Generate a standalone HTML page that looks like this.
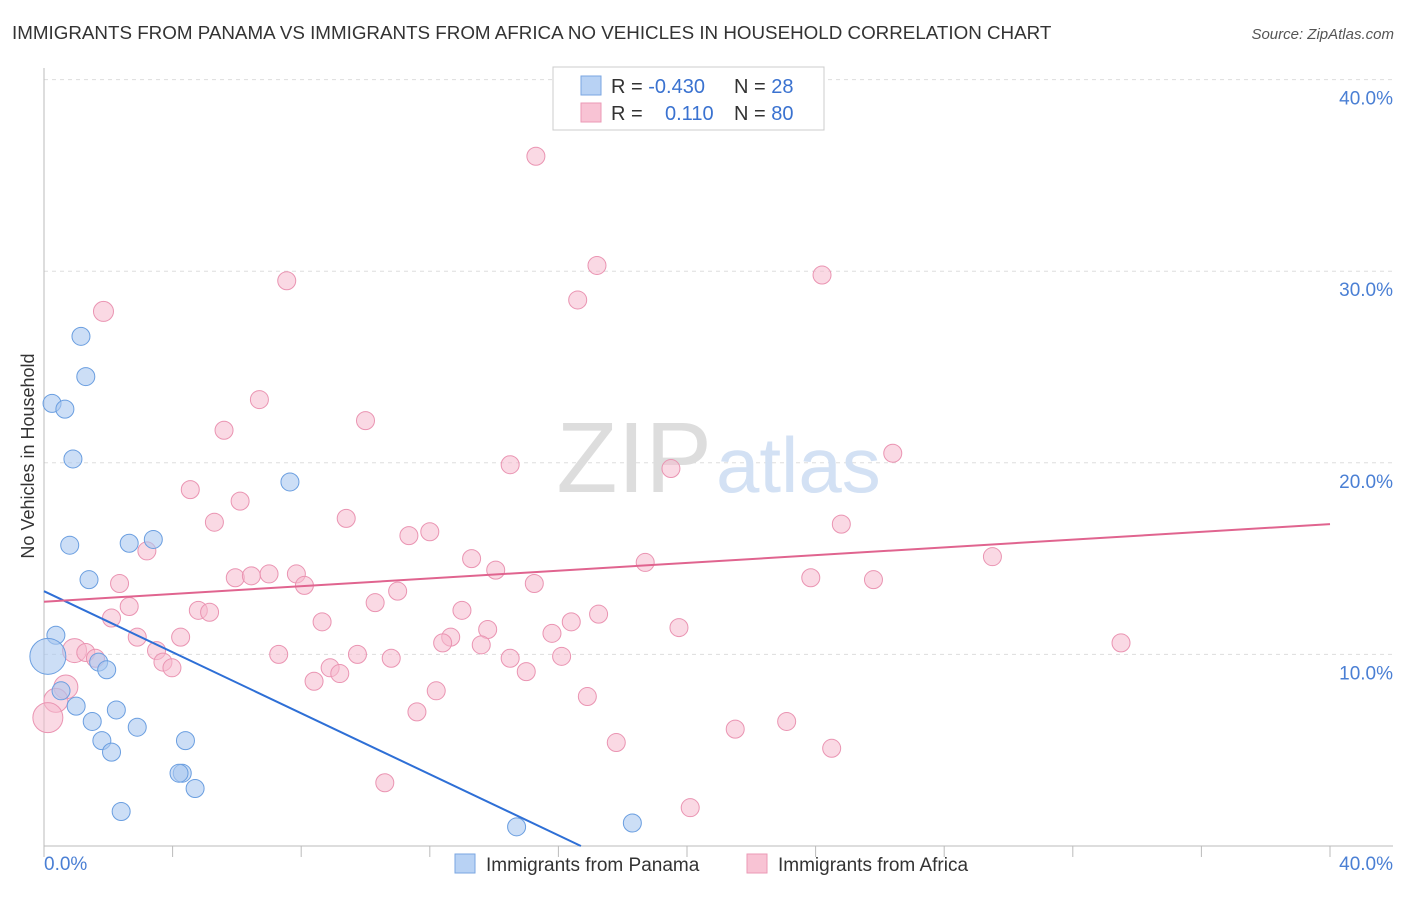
<!DOCTYPE html>
<html><head><meta charset="utf-8"><style>
body{margin:0;background:#fff;font-family:"Liberation Sans",sans-serif;}
svg text{font-family:"Liberation Sans",sans-serif;}
</style></head><body>
<svg id="chart" width="1406" height="892" xmlns="http://www.w3.org/2000/svg">
<text x="12" y="39" font-size="18.8" fill="#333">IMMIGRANTS FROM PANAMA VS IMMIGRANTS FROM AFRICA NO VEHICLES IN HOUSEHOLD CORRELATION CHART</text>
<text x="1394" y="39" font-size="15" fill="#555" text-anchor="end" font-style="italic">Source: ZipAtlas.com</text>
<g id="grid"></g>
<g id="axes"></g>
<text x="712" y="492" font-size="100" fill="#ddd" text-anchor="end" font-family="Liberation Serif">ZIP</text>
<text x="716" y="492" font-size="78" fill="#d3e1f4">atlas</text>
<g id="pts"></g>
<g id="lines"></g>
<text transform="translate(34,456) rotate(-90)" font-size="18" fill="#333" text-anchor="middle">No Vehicles in Household</text>
<g>
<rect x="553" y="67" width="271" height="63" fill="#fff" stroke="#ccc"/>
<rect x="581" y="76" width="20" height="19" fill="#b8d2f4" stroke="#7aa6e2"/>
<rect x="581" y="103" width="20" height="19" fill="#f8c3d4" stroke="#eb9ab6"/>
<text x="611" y="93" font-size="20" fill="#333">R = <tspan fill="#3a72d0">-0.430</tspan></text>
<text x="734" y="93" font-size="20" fill="#333">N = <tspan fill="#3a72d0">28</tspan></text>
<text x="611" y="120" font-size="20" fill="#333">R = </text>
<text x="665" y="120" font-size="20" fill="#3a72d0">0.110</text>
<text x="734" y="120" font-size="20" fill="#333">N = <tspan fill="#3a72d0">80</tspan></text>
</g>
<g>
<rect x="455" y="854" width="20" height="19" fill="#b8d2f4" stroke="#7aa6e2"/>
<text x="486" y="871" font-size="19" fill="#333">Immigrants from Panama</text>
<rect x="747" y="854" width="20" height="19" fill="#f8c3d4" stroke="#eb9ab6"/>
<text x="778" y="871" font-size="19" fill="#333">Immigrants from Africa</text>
</g>
</svg>
<script>
const yTicks=[10,20,30,40];
const yTickLabels=["10.0%","20.0%","30.0%","40.0%"];
const xTickLabels=["0.0%","40.0%"];
const panamaX=[0.25,0.65,1.15,1.3,0.9,0.8,1.4,2.65,3.4,7.65,0.37,0.12,1.7,1.95,0.53,1.0,2.25,1.5,2.9,1.8,2.1,4.4,4.3,4.2,4.7,2.4,14.7,18.3];
const panamaY=[23.1,22.8,26.6,24.5,20.2,15.7,13.9,15.8,16.0,19.0,11.0,9.9,9.6,9.2,8.1,7.3,7.1,6.5,6.2,5.5,4.9,5.5,3.8,3.8,3.0,1.8,1.0,1.2];
const panamaR=[9,9,9,9,9,9,9,9,9,9,9,18,9,9,9,9,9,9,9,9,9,9,9,9,9,9,9,9];
const africaX=[15.3,17.2,16.6,24.2,7.55,1.85,6.7,10.0,5.6,14.5,19.5,26.4,4.55,6.1,5.3,9.4,24.8,12.0,11.35,3.2,13.3,18.7,29.5,14.05,2.35,5.95,6.45,7.0,7.85,8.1,15.25,23.85,25.8,11.0,10.3,2.65,4.8,5.15,13.0,17.25,2.1,8.65,16.4,19.75,13.8,2.9,4.25,12.65,12.4,15.8,33.5,13.6,0.95,1.3,3.5,1.6,7.3,9.75,10.8,14.5,16.1,3.7,3.98,8.9,9.2,15.0,8.4,0.68,12.2,0.37,16.9,11.6,0.12,23.1,21.5,17.8,24.5,10.6,20.1];
const africaY=[36.0,30.3,28.5,29.8,29.5,27.9,23.3,22.2,21.7,19.9,19.7,20.5,18.6,18.0,16.9,17.1,16.8,16.4,16.2,15.4,15.0,14.8,15.1,14.4,13.7,14.0,14.1,14.2,14.2,13.6,13.7,14.0,13.9,13.3,12.7,12.5,12.3,12.2,12.3,12.1,11.9,11.7,11.7,11.4,11.3,10.9,10.9,10.9,10.6,11.1,10.6,10.5,10.2,10.1,10.2,9.8,10.0,10.0,9.8,9.8,9.9,9.6,9.3,9.3,9.0,9.1,8.6,8.3,8.1,7.6,7.8,7.0,6.7,6.5,6.1,5.4,5.1,3.3,2.0];
const africaR=[9,9,9,9,9,10,9,9,9,9,9,9,9,9,9,9,9,9,9,9,9,9,9,9,9,9,9,9,9,9,9,9,9,9,9,9,9,9,9,9,9,9,9,9,9,9,9,9,9,9,9,9,12,9,9,9,9,9,9,9,9,9,9,9,9,9,9,12,9,12,9,9,15,9,9,9,9,9,9];
const panamaTrend=[[0,13.3],[16.7,0]];
const africaTrend=[[0,12.75],[40,16.8]];
const NS="http://www.w3.org/2000/svg";
const xs=v=>44+v*32.15, ys=v=>846-v*19.16;
function mk(t,a,p){const e=document.createElementNS(NS,t);for(const k in a)e.setAttribute(k,a[k]);p.appendChild(e);return e;}
const grid=document.getElementById('grid'),axes=document.getElementById('axes'),pts=document.getElementById('pts'),lines=document.getElementById('lines');
yTicks.forEach((t,i)=>{
 const l=mk('line',{x1:44,x2:1393,y1:ys(t),y2:ys(t),stroke:'#ddd','stroke-dasharray':'4,4'},grid);
 
 
 const tx=mk('text',{x:1393,y:ys(t)+25,'font-size':19,fill:'#4a7fd4','text-anchor':'end'},grid);
 tx.textContent=yTickLabels[i];
 
 
});
mk('line',{x1:44,x2:44,y1:68,y2:846,stroke:'#bbb'},axes);
mk('line',{x1:44,x2:1393,y1:846,y2:846,stroke:'#bbb'},axes);
for(let i=0;i<=10;i++){const t=mk('line',{x1:xs(i*4),x2:xs(i*4),y1:846,y2:857,stroke:'#bbb'},axes);
 
 }
[[0,'start',44],[40,'end',1393]].forEach((d,i)=>{const t=mk('text',{x:d[2],y:870,'font-size':19,fill:'#4a7fd4','text-anchor':d[1]},axes);t.textContent=xTickLabels[i];
 
 });
africaX.forEach((x,i)=>{const c=mk('circle',{cx:xs(x),cy:ys(africaY[i]),r:africaR[i],fill:'#f6b9cd','fill-opacity':0.55,stroke:'#ea94b2','stroke-width':1},pts);
 
 });
panamaX.forEach((x,i)=>{const c=mk('circle',{cx:xs(x),cy:ys(panamaY[i]),r:panamaR[i],fill:'#aac8f0','fill-opacity':0.6,stroke:'#6a9ee0','stroke-width':1},pts);
 
 });
const lb=mk('line',{x1:xs(panamaTrend[0][0]),y1:ys(panamaTrend[0][1]),x2:xs(panamaTrend[1][0]),y2:ys(panamaTrend[1][1]),stroke:'#2e6fd6','stroke-width':2},lines);


const lp=mk('line',{x1:xs(africaTrend[0][0]),y1:ys(africaTrend[0][1]),x2:xs(africaTrend[1][0]),y2:ys(africaTrend[1][1]),stroke:'#e0648f','stroke-width':2},lines);


</script>
</body></html>
